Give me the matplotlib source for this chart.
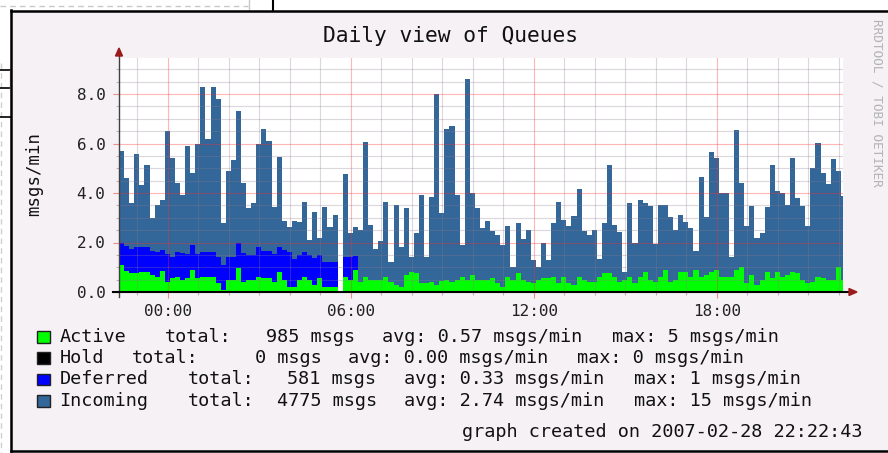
import numpy as np
import matplotlib
matplotlib.use("Agg")
import matplotlib.pyplot as plt
from matplotlib.lines import Line2D
from matplotlib.patches import Rectangle, Polygon
from matplotlib.ticker import MultipleLocator, FuncFormatter

# 10-minute samples, first one starts 22:24 the day before (hour -1.6)
t_start = -1.6
step_h = 1 / 6

active = [1.1, .85, .75, .78, .82, .82, .7, .62, .85, .4, .55, .6, .48, .55, .9, .55, .62, .62,
          .62, .35, .08, .48, .48, .96, .42, .48, .48, .62, .55, .55, .42, .82, .48, .22, .22,
          .48, .6, .5, .28, .55, .22, .22, .22, 0, .62, .48, .89, .42, .6, .5, .48, .48, .62,
          .4, .3, .22, .7, .8, .75, .35, .35, .42, .3, .45, .48, .42, .5, .6, .5, .7, .48,
          .48, .48, .55, .35, .2, .6, .5, .75, .5, .4, .35, .48, .55, .55, .6, .35, .6, .35,
          .28, .6, .48, .42, .42, .62, .75, .75, .6, .42, .5, .6, .35, .6, .8, .48, .4, .6, .9,
          .42, .5, .82, .82, .6, .9, .6, .69, .8, .9, .62, .62, .62, .9, 1.0, .35, .69, .3,
          .5, .82, .55, .8, .62, .7, .82, .75, .48, .35, .4, .62, .55, .48, .48, 1.0, .48]

hold = [0.0] * len(active)

deferred = [.9, 1.0, 1.0, 1.05, 1.0, 1.0, .95, 1.0, .85, 1.15, .85, 1.0, 1.1, 1.0, 1.0, 1.0,
            1.0, 1.0, 1.0, 1.08, 1.0, .95, .95, 1.0, 1.15, 1.0, 1.0, 1.2, 1.1, 1.1, 1.1, 1.0,
            1.2, 1.4, 1.1, 1.0, 1.0, 1.0, 1.1, .95, 1.0, 1.0, 1.0, 0, .8, .95, .55] + [0.0] * 96

incoming = [3.7, 2.75, 1.85, 3.75, 2.5, 3.3, 1.35, 1.9, 2.0, 4.95, 4.0, 2.8, 2.35, 4.35, 2.9,
            4.45, 6.65, 4.55, 6.65, 6.35, 1.7, 3.45, 3.9, 5.35, 2.85, 1.9, 2.1, 4.15, 4.95,
            4.45, 1.9, 3.65, 1.2, 1.0, 1.55,
            1.35, 2.05, .6, 1.85, .7, 2.2, 1.4, 1.9, 0, 3.35, .97, 1.2, 2.1, 5.45, 2.2, 1.27,
            1.6, 3.0, .8, 3.2, 1.6, 2.7, .6, 1.65, 3.55, 1.05, 3.4, 7.7, 2.75, 6.1, 6.3, 3.4,
            1.3, 8.1, 3.3, 2.9,
            2.1, 2.4, 1.9, 1.95, 1.7, 2.05, .5, 2.05, 1.65, 2.1, .95, .52, 1.45, .75, 2.2, 3.3,
            2.3, 2.3, 2.8, 3.55, 2.0, 1.9, 2.1, .7, 2.05, 4.4, 2.1, 2.0, .3, 3.0, 1.65, 3.1,
            2.8, 3.0, 1.55, 2.9, 2.6,
            2.6, 2.0, 2.3, 2.0, 2.0, .75, 4.05, 2.35, 4.85, 4.5, 3.4, 3.4, .8, 5.65, 3.4, 2.3,
            2.8, 1.9, 1.9, 2.6, 4.6, 3.3, 3.4, 2.8, 4.6, 3.05, 3.0, 2.3, 4.6, 5.4, 4.25, 3.9,
            4.9, 3.9, 3.4]

series_names = ["Active", "Hold", "Deferred", "Incoming"]
series_colors = ["#00ff00", "#000000", "#0000ff", "#336699"]
totals = [985, 0, 581, 4775]
avgs = [0.57, 0.00, 0.33, 2.74]
maxs = [5, 0, 1, 15]

title = "Daily view of Queues"
ylabel = "msgs/min"
created = "graph created on 2007-02-28 22:22:43"
watermark = "RRDTOOL / TOBI OETIKER"

W, H = 888, 453
BG = "#f5f1f5"
MONO = "DejaVu Sans Mono"


def fx(x):
    return x / W


def fy(y):
    return 1 - y / H


fig = plt.figure(figsize=(W / 100, H / 100), dpi=100, facecolor=BG)

# page around the graph (white strip with dashed page furniture)
fig.add_artist(Rectangle((0, 0), fx(11), 1, transform=fig.transFigure, color="white", zorder=0))
fig.add_artist(Rectangle((0, fy(10)), 1, 1 - fy(10), transform=fig.transFigure, color="white", zorder=0))


def fline(x0, y0, x1, y1, color="black", lw=1.5, ls="-"):
    fig.add_artist(Line2D([fx(x0), fx(x1)], [fy(y0), fy(y1)], transform=fig.transFigure,
                          color=color, lw=lw, ls=ls, zorder=5))


fline(0, 6, 248, 6, color="#c8c8c8", lw=1, ls=(0, (4, 3)))
fline(249, 0, 249, 10, color="#c8c8c8", lw=1)
fline(272.5, 0, 272.5, 10, lw=1.5)
fline(1, 63, 1, 453, color="#d0d0d0", lw=1, ls=(0, (4, 3)))
fline(0, 70, 11, 70, lw=1.2)
fline(0, 87.5, 11, 87.5, lw=1.2)
fline(0, 117, 11, 117, lw=1.2)
fline(9.5, 70, 9.5, 87.5, color="#b0b0b0", lw=1)
# graph frame
fline(11, 11, W, 11, lw=1.8)
fline(11, 10, 11, 451, lw=1.8)
fline(11, 450.5, W, 450.5, lw=1.8)

# plot canvas
ax = fig.add_axes([fx(119), fy(292), (843 - 119) / W, (292 - 58) / H])
ax.set_facecolor("white")

# stacked step areas, as rrdtool draws them
n = len(active)
edges = t_start + step_h * np.arange(n + 1)
lower = np.zeros(n)
for vals, col in zip([active, hold, deferred, incoming], series_colors):
    upper = lower + np.array(vals)
    ax.stairs(upper, edges, baseline=lower, fill=True, color=col, lw=0)
    lower = upper

ax.set_xlim(t_start, t_start + (843 - 119) / 30.5)
ax.set_ylim(0, (292 - 58) / 24.75)

ax.xaxis.set_major_locator(MultipleLocator(6))
ax.xaxis.set_minor_locator(MultipleLocator(1))
ax.yaxis.set_major_locator(MultipleLocator(2))
ax.yaxis.set_minor_locator(MultipleLocator(0.5))
ax.xaxis.set_major_formatter(FuncFormatter(lambda v, p: f"{int(round(v)) % 24:02d}:00"))
ax.yaxis.set_major_formatter(FuncFormatter(lambda v, p: f"{v:.1f}"))

ax.set_axisbelow(False)
ax.grid(which="major", color="#ff3030", alpha=0.35, lw=0.8)
ax.grid(which="minor", color="#8c7c8c", alpha=0.3, lw=0.8)
ax.tick_params(which="major", color="#f08a8a", length=4, width=0.8, labelsize=11.5,
               labelcolor="#222222")
ax.tick_params(which="minor", color="#c0b0c0", length=2.5, width=0.8)
ax.tick_params(axis="y", which="major", pad=5.8)
ax.tick_params(axis="x", which="major", pad=4.5)
for lab in ax.get_xticklabels() + ax.get_yticklabels():
    lab.set_family(MONO)
for s in ax.spines.values():
    s.set_visible(False)

# axes with arrow heads
fline(119, 297, 119, 52, color="#404040", lw=1)
fline(113, 292, 849, 292, color="black", lw=1.5)
fig.add_artist(Polygon([(fx(115.5), fy(56)), (fx(122.5), fy(56)), (fx(119), fy(48))],
                       closed=True, transform=fig.transFigure, color="#9b1b1b", zorder=6))
fig.add_artist(Polygon([(fx(849), fy(288.5)), (fx(849), fy(295.5)), (fx(857), fy(292))],
                       closed=True, transform=fig.transFigure, color="#9b1b1b", zorder=6))

# texts
fig.text(fx(450.5), fy(41.7), title, family=MONO, fontsize=15.3, ha="center", va="baseline",
         color="#111111")
fig.text(fx(34), fy(174), ylabel, family=MONO, fontsize=12.5, rotation=90, ha="center",
         va="center", color="#111111")
fig.text(fx(876.5), fy(103), watermark, family=MONO, fontsize=9.2, rotation=270, ha="center",
         va="center", color="#b4b4b4")

# legend rows (x positions of each column segment, in pixels)
row_base = [342, 363, 384.5, 406]
col_x = [[165, 266, 381.7, 611.7],
         [131.7, 255, 348.3, 577.3],
         [187.7, 287.3, 404.3, 634],
         [187.7, 276.7, 404.3, 634]]
for k, name in enumerate(series_names):
    yb = row_base[k]
    fig.add_artist(Rectangle((fx(37), fy(yb + 0.5)), 12.5 / W, 11.5 / H, transform=fig.transFigure,
                             facecolor=series_colors[k], edgecolor="#222222", lw=1, zorder=6))
    segs = [name, "total:", f"{totals[k]} msgs", f"avg: {avgs[k]:.2f} msgs/min",
            f"max: {maxs[k]} msgs/min"]
    xs = [59.3] + col_x[k]
    for s, x in zip(segs, xs):
        fig.text(fx(x), fy(yb), s, family=MONO, fontsize=13.3, ha="left", va="baseline",
                 color="#111111")

fig.text(fx(461.7), fy(437.3), created, family=MONO, fontsize=13.3, ha="left", va="baseline",
         color="#111111")

fig.savefig("out.png", dpi=100, facecolor=BG)
